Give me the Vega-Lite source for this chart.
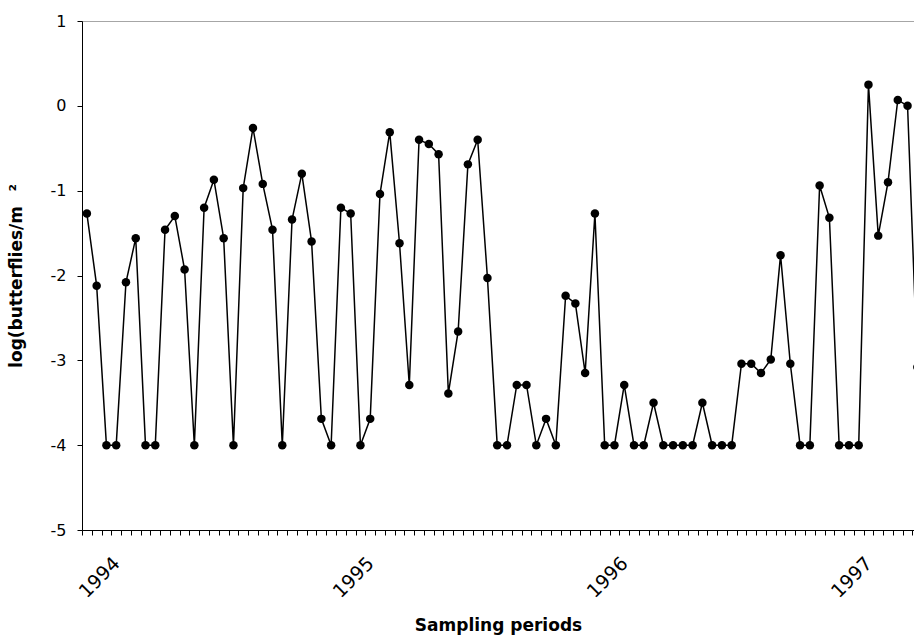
{
  "$schema": "https://vega.github.io/schema/vega-lite/v6.json",
  "autosize": "none",
  "width": 832,
  "height": 509,
  "padding": {"left": 82, "top": 21, "right": 0, "bottom": 113},
  "background": "white",
  "view": {"stroke": "#a6a6a6", "strokeWidth": 1},
  "config": {
    "font": "DejaVu Sans",
    "axis": {
      "grid": false,
      "domainColor": "black",
      "domainWidth": 1,
      "tickColor": "black",
      "labelColor": "black",
      "titleColor": "black",
      "labelFont": "DejaVu Sans",
      "titleFont": "DejaVu Sans",
      "labelFontSize": 16,
      "titleFontSize": 17,
      "titleFontWeight": "bold"
    }
  },
  "data": {
    "values": [
      {"period": 1, "log_density": -1.27},
      {"period": 2, "log_density": -2.12},
      {"period": 3, "log_density": -4},
      {"period": 4, "log_density": -4},
      {"period": 5, "log_density": -2.08},
      {"period": 6, "log_density": -1.56},
      {"period": 7, "log_density": -4},
      {"period": 8, "log_density": -4},
      {"period": 9, "log_density": -1.46},
      {"period": 10, "log_density": -1.3},
      {"period": 11, "log_density": -1.93},
      {"period": 12, "log_density": -4},
      {"period": 13, "log_density": -1.2},
      {"period": 14, "log_density": -0.87},
      {"period": 15, "log_density": -1.56},
      {"period": 16, "log_density": -4},
      {"period": 17, "log_density": -0.97},
      {"period": 18, "log_density": -0.26},
      {"period": 19, "log_density": -0.92},
      {"period": 20, "log_density": -1.46},
      {"period": 21, "log_density": -4},
      {"period": 22, "log_density": -1.34},
      {"period": 23, "log_density": -0.8},
      {"period": 24, "log_density": -1.6},
      {"period": 25, "log_density": -3.69},
      {"period": 26, "log_density": -4},
      {"period": 27, "log_density": -1.2},
      {"period": 28, "log_density": -1.27},
      {"period": 29, "log_density": -4},
      {"period": 30, "log_density": -3.69},
      {"period": 31, "log_density": -1.04},
      {"period": 32, "log_density": -0.31},
      {"period": 33, "log_density": -1.62},
      {"period": 34, "log_density": -3.29},
      {"period": 35, "log_density": -0.4},
      {"period": 36, "log_density": -0.45},
      {"period": 37, "log_density": -0.57},
      {"period": 38, "log_density": -3.39},
      {"period": 39, "log_density": -2.66},
      {"period": 40, "log_density": -0.69},
      {"period": 41, "log_density": -0.4},
      {"period": 42, "log_density": -2.03},
      {"period": 43, "log_density": -4},
      {"period": 44, "log_density": -4},
      {"period": 45, "log_density": -3.29},
      {"period": 46, "log_density": -3.29},
      {"period": 47, "log_density": -4},
      {"period": 48, "log_density": -3.69},
      {"period": 49, "log_density": -4},
      {"period": 50, "log_density": -2.24},
      {"period": 51, "log_density": -2.33},
      {"period": 52, "log_density": -3.15},
      {"period": 53, "log_density": -1.27},
      {"period": 54, "log_density": -4},
      {"period": 55, "log_density": -4},
      {"period": 56, "log_density": -3.29},
      {"period": 57, "log_density": -4},
      {"period": 58, "log_density": -4},
      {"period": 59, "log_density": -3.5},
      {"period": 60, "log_density": -4},
      {"period": 61, "log_density": -4},
      {"period": 62, "log_density": -4},
      {"period": 63, "log_density": -4},
      {"period": 64, "log_density": -3.5},
      {"period": 65, "log_density": -4},
      {"period": 66, "log_density": -4},
      {"period": 67, "log_density": -4},
      {"period": 68, "log_density": -3.04},
      {"period": 69, "log_density": -3.04},
      {"period": 70, "log_density": -3.15},
      {"period": 71, "log_density": -2.99},
      {"period": 72, "log_density": -1.76},
      {"period": 73, "log_density": -3.04},
      {"period": 74, "log_density": -4},
      {"period": 75, "log_density": -4},
      {"period": 76, "log_density": -0.94},
      {"period": 77, "log_density": -1.32},
      {"period": 78, "log_density": -4},
      {"period": 79, "log_density": -4},
      {"period": 80, "log_density": -4},
      {"period": 81, "log_density": 0.25},
      {"period": 82, "log_density": -1.53},
      {"period": 83, "log_density": -0.9},
      {"period": 84, "log_density": 0.07},
      {"period": 85, "log_density": 0.0},
      {"period": 86, "log_density": -3.08}
    ]
  },
  "encoding": {
    "y": {
      "field": "log_density",
      "type": "quantitative",
      "scale": {"domain": [-5, 1], "nice": false, "zero": false},
      "axis": {
        "values": [-5, -4, -3, -2, -1, 0, 1],
        "labelExpr": "toString(datum.value)",
        "tickSize": 5,
        "labelPadding": 11,
        "labelFlush": false,
        "labelBound": false,
        "title": "log(butterflies/m\u2002 ²",
        "titlePadding": 25
      }
    }
  },
  "layer": [
    {
      "mark": {"type": "line", "color": "black", "strokeWidth": 1.5, "clip": true},
      "encoding": {
        "x": {
          "field": "period",
          "type": "quantitative",
          "scale": {"domain": [0.5, 85.66], "nice": false, "zero": false},
          "axis": {
            "orient": "bottom",
            "values": [0.5, 1.5, 2.5, 3.5, 4.5, 5.5, 6.5, 7.5, 8.5, 9.5, 10.5, 11.5, 12.5, 13.5, 14.5, 15.5, 16.5, 17.5, 18.5, 19.5, 20.5, 21.5, 22.5, 23.5, 24.5, 25.5, 26.5, 27.5, 28.5, 29.5, 30.5, 31.5, 32.5, 33.5, 34.5, 35.5, 36.5, 37.5, 38.5, 39.5, 40.5, 41.5, 42.5, 43.5, 44.5, 45.5, 46.5, 47.5, 48.5, 49.5, 50.5, 51.5, 52.5, 53.5, 54.5, 55.5, 56.5, 57.5, 58.5, 59.5, 60.5, 61.5, 62.5, 63.5, 64.5, 65.5, 66.5, 67.5, 68.5, 69.5, 70.5, 71.5, 72.5, 73.5, 74.5, 75.5, 76.5, 77.5, 78.5, 79.5, 80.5, 81.5, 82.5, 83.5, 84.5, 85.5],
            "labels": false,
            "ticks": true,
            "tickSize": 5,
            "title": null
          }
        }
      }
    },
    {
      "mark": {"type": "point", "filled": true, "shape": "circle", "size": 72, "color": "black", "opacity": 1, "clip": true},
      "encoding": {
        "x": {
          "field": "period",
          "type": "quantitative",
          "axis": {
            "orient": "bottom",
            "values": [4, 30, 56, 81],
            "labelExpr": "datum.value == 4 ? '1994' : datum.value == 30 ? '1995' : datum.value == 56 ? '1996' : '1997'",
            "domain": false,
            "ticks": false,
            "labelAngle": -45,
            "labelAlign": "right",
            "labelBaseline": "middle",
            "labelFontSize": 19,
            "labelPadding": 30,
            "labelFlush": false,
            "labelOverlap": false,
            "labelBound": false,
            "title": "Sampling periods",
            "titlePadding": 16
          }
        }
      }
    }
  ],
  "resolve": {"axis": {"x": "independent"}}
}
